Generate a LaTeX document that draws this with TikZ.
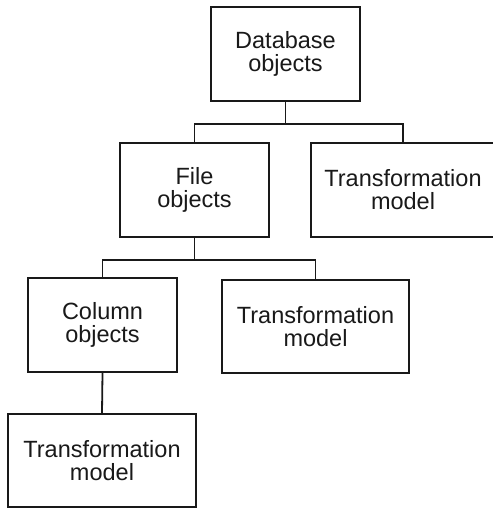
\documentclass[tikz,border=0pt]{standalone}
\usepackage{fontspec}
\setmainfont{Liberation Sans}

\begin{document}
\begin{tikzpicture}[x=1pt,y=-1pt,
		box/.style={draw,rectangle,inner sep=0pt,align=center,line width=1.6pt,color=black!90,text=black!90,font=\fontsize{23.5}{23}\selectfont},
		link/.style={-,line width=1.8pt,color=black!90}]
			\useasboundingbox (0,0) rectangle (492,508);
			\node[box,minimum width=149pt,minimum height=94pt] (db) at (285.5,54){Database\\objects};
			\node[box,minimum width=149pt,minimum height=94pt] (file) at (194.5,190){File\\objects};
			\node[box,minimum width=184pt,minimum height=94pt] (tm1) at (403,190){Transformation\\model};
			\node[box,minimum width=149pt,minimum height=94pt] (col) at (102.5,325){Column\\objects};
			\node[box,minimum width=187pt,minimum height=93pt] (tm2) at (315.5,326.5){Transformation\\model};
			\node[box,minimum width=188pt,minimum height=93pt] (tm3) at (102,460.5){Transformation\\model};
			\draw[link] (db.south) -- ++(0,22) coordinate (j1);
			\draw[link] (j1) -| (file.north);
			\draw[link] (j1) -| (tm1.north);
			\draw[link] (file.south) -- ++(0,22) coordinate (j2);
			\draw[link] (j2) -| (col.north);
			\draw[link] (j2) -| (tm2.north);
			\draw[link] (col.south) -- (tm3.north);
		\end{tikzpicture}
\end{document}
